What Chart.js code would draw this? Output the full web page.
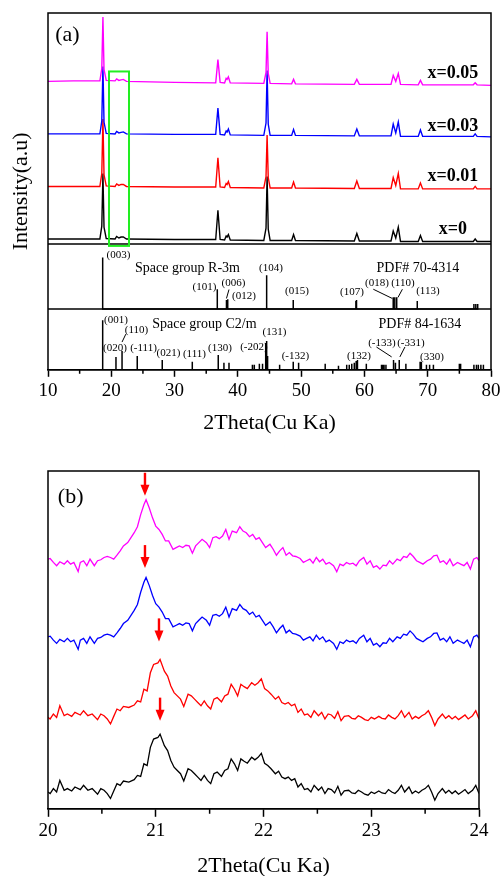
<!DOCTYPE html>
<html>
<head>
<meta charset="utf-8">
<script src="https://cdn.jsdelivr.net/npm/chart.js@4.4.1/dist/chart.umd.min.js"></script>
<style>
  html, body { margin: 0; padding: 0; background: #fff; overflow: hidden; width: 504px; height: 876px; }
  #wrapA { position: absolute; left: 0; top: 0; width: 504px; height: 440px; }
  #wrapB { position: absolute; left: 0; top: 440px; width: 504px; height: 440px; }
</style>
</head>
<body>
<div id="wrapA"><canvas id="chartA" width="504" height="440"></canvas></div>
<div id="wrapB"><canvas id="chartB" width="504" height="440"></canvas></div>
<script>
// ---- panel (a): full patterns, 2theta grid shared by all four samples
const thetaA = [10, 14, 18.2, 18.5, 18.68, 18.85, 19.2, 20.6, 20.85, 21.2, 21.55, 21.9, 22.4, 30,
  36.5, 36.85, 37.2, 37.9, 38.15, 38.3, 38.5, 38.8, 44.1, 44.45, 44.62, 44.8, 45.1,
  48.5, 48.8, 49.1, 58.4, 58.8, 59.2, 64.2, 64.55, 64.95, 65.35, 65.7, 68.5, 68.85, 69.2,
  77.2, 77.5, 77.8, 80];
const sampleLabels = ['x=0.05', 'x=0.03', 'x=0.01', 'x=0'];
const x005 = [0, 0.5, 0.5, 13, 65, 12, 1, 0.5, 2.5, 1, 1.5, 2, 0, -1,
  -1.5, 22, -1, -1.5, 3, 2, 4.5, -1.5, -2, 9, 50, 8, -2,
  -2.5, 2, -2.5, -3, 2, -3, -3, 6, 0, 8, -3, -3.5, 1, -3.5,
  -3.5, -1.5, -3.5, -4];
const x003 = [0, 0, 0, 13, 68, 12, 0.5, 0, 2.5, 1, 1.5, 2, 0, -0.5,
  -0.5, 26, -0.5, -1, 3, 2, 5, -1, -1.5, 11, 64, 10, -1.5,
  -1.5, 4.5, -1.5, -2, 5, -2, -2, 10, 1, 12, -2.5, -2.5, 4, -2.5,
  -2.5, 0, -2.5, -3];
const x001 = [0, 0, 0, 13, 68, 12, 0.5, 0, 2.5, 1, 2, 2, 0, -0.5,
  -0.5, 29, -0.5, -1, 3, 2, 5, -1, -1.5, 10, 52, 9, -1.5,
  -1.5, 4.5, -1.5, -2, 5.5, -2, -2, 9, 1, 13, -2.5, -2.5, 3.5, -2.5,
  -2.5, 0, -2.5, -2.5];
const x000 = [0, 0, 0, 13, 66, 12, 0.5, 0, 2.5, 1, 2, 2, 0, -0.5,
  -0.5, 29, -0.5, -1, 3, 2, 4.5, -1, -1.5, 11, 63, 10, -1.5,
  -1.5, 4.5, -1.5, -2, 5.5, -2, -2, 8, 1, 12, -2.5, -2.5, 3.5, -2.5,
  -2.5, 0, -2.5, -2.5];
const offsetsA = [291, 238, 185, 132];

// reference cards
const r3mTheta = [18.64, 36.75, 38.2, 38.4, 44.55, 48.75, 58.65, 58.75, 64.55, 64.8, 65.1, 68.35, 77.3, 77.6, 77.9];
const r3mHeight = [52, 20, 9, 10, 34, 9, 8, 9, 12, 12, 12, 8, 5, 5, 5];
const c2mTheta = [18.64, 20.74, 21.7, 24.1, 28.05, 32.8, 36.9, 37.8, 38.6, 42.3, 42.6, 43.4, 43.9, 44.4,
  44.55, 44.7, 46.6, 48.75, 49.6, 53.8, 55.9, 57.2, 57.6, 58.0, 58.4, 58.7, 58.9, 60.3, 62.7, 62.9,
  63.1, 63.4, 64.6, 64.9, 65.5, 66.55, 68.8, 69.0, 69.8, 70.3, 70.9, 75.0, 75.2, 77.3, 77.7, 78.0, 78.4, 78.8];
const c2mHeight = [50, 13, 19, 14, 10, 8, 15, 7, 7, 5, 5, 6, 6, 27,
  29, 14, 5, 8, 7, 6, 4, 5, 5, 6, 7, 9, 10, 6, 5, 5,
  5, 5, 10, 7, 10, 6, 8, 8, 5, 5, 5, 6, 6, 5, 5, 5, 5, 5];
const r3mBase = 61.3;
const c2mBase = 0;
const separators = [127, 61.3];

// ---- panel (b): zoom 20-24 deg
const zoomThetaA = [20.00, 20.02, 20.05, 20.08, 20.11, 20.15, 20.18, 20.21, 20.24, 20.28,
  20.30, 20.33, 20.36, 20.39, 20.43, 20.46, 20.49, 20.52, 20.55, 20.58,
  20.61, 20.64, 20.67, 20.70, 20.74, 20.77, 20.80, 20.83, 20.86, 20.89,
  20.91, 20.94, 20.97, 21.00, 21.03, 21.06, 21.09, 21.12, 21.16, 21.19,
  21.22, 21.25, 21.28, 21.31, 21.34, 21.37, 21.40, 21.43, 21.47, 21.50,
  21.53, 21.56, 21.59, 21.62, 21.65, 21.68, 21.71, 21.75, 21.78, 21.81,
  21.84, 21.87, 21.90, 21.93, 21.96, 21.99, 22.02, 22.06, 22.09, 22.12,
  22.15, 22.18, 22.21, 22.24, 22.27, 22.30, 22.34, 22.37, 22.40, 22.43,
  22.46, 22.49, 22.52, 22.55, 22.58, 22.61, 22.65, 22.68, 22.71, 22.74,
  22.77, 22.80, 22.83, 22.86, 22.89, 22.93, 22.96, 22.99, 23.02, 23.05,
  23.08, 23.11, 23.14, 23.17, 23.20, 23.24, 23.27, 23.30, 23.33, 23.36,
  23.39, 23.42, 23.45, 23.48, 23.52, 23.55, 23.58, 23.61, 23.64, 23.67,
  23.70, 23.73, 23.76, 23.80, 23.83, 23.86, 23.89, 23.92, 23.95, 23.98, 24.00];
const zoomShapeA = [3.3, 4, 0, -3.3, 0.7, -1.7, 1.7, -1.7, 0, -9.3,
  0, 1.7, -3.3, 3.3, -3.3, 1.7, 2.7, 5, 6, 5,
  3.3, 7.3, 11.7, 16.7, 20, 25, 30, 36, 48.3, 58.3,
  63.3, 55, 45, 36.7, 33.3, 28.3, 21.7, 21.7, 13.3, 15,
  16.7, 15, 17.3, 16.7, 9.3, 16.7, 20, 23.3, 20, 15,
  25, 26, 24, 26.7, 33.3, 23.3, 31.7, 30, 36, 31.7,
  30, 26, 28.3, 23.3, 25, 20, 15, 18.3, 13.3, 7.3,
  11.7, 15, 7.3, 10, 6.7, 6, 4, 0, 1.7, 3.3,
  -0.7, 5, 0.7, 3.3, -1.7, 0, -3.3, -9.3, -1.7, -3.3,
  0, -1.7, -0.7, -3.3, 1.7, 5, -1.7, 1.7, -5, -3.3,
  -6.7, -2.7, -3.3, 1.7, -1.7, 3.3, 1.7, 6, 5, 9.3,
  6, 1.7, 0, -1.7, 1.7, 3.3, 6.7, 7.3, 0, 1.7,
  -1.7, 3.3, -3.3, 0, -1.7, -3.3, 0, -6.7, 3.3, 5, 1.7];
const zoomThetaB = [20.00, 20.02, 20.05, 20.08, 20.11, 20.15, 20.18, 20.22, 20.25, 20.30,
  20.33, 20.37, 20.41, 20.46, 20.49, 20.52, 20.55, 20.58, 20.61, 20.64,
  20.67, 20.70, 20.75, 20.80, 20.83, 20.86, 20.89, 20.92, 20.95, 20.98,
  21.02, 21.04, 21.08, 21.11, 21.14, 21.17, 21.20, 21.23, 21.26, 21.30,
  21.33, 21.36, 21.39, 21.42, 21.45, 21.48, 21.51, 21.54, 21.57, 21.61,
  21.64, 21.67, 21.70, 21.73, 21.76, 21.79, 21.82, 21.85, 21.89, 21.92,
  21.95, 21.98, 22.01, 22.04, 22.07, 22.11, 22.14, 22.17, 22.20, 22.23,
  22.26, 22.29, 22.32, 22.35, 22.38, 22.41, 22.44, 22.47, 22.51, 22.54,
  22.57, 22.60, 22.63, 22.66, 22.69, 22.72, 22.75, 22.79, 22.82, 22.85,
  22.88, 22.91, 22.94, 22.97, 23.00, 23.03, 23.07, 23.10, 23.13, 23.16,
  23.19, 23.22, 23.25, 23.28, 23.31, 23.35, 23.38, 23.41, 23.44, 23.47,
  23.50, 23.53, 23.56, 23.59, 23.62, 23.66, 23.69, 23.72, 23.75, 23.78,
  23.81, 23.84, 23.87, 23.90, 23.94, 23.97, 24.00];
const zoomShapeB = [-1.7, -3.3, 1.7, -1.7, 10, 0, 1.7, -0.7, 3.3, 0.7,
  5, 0, 1.7, -4, 1.7, 0, -3.3, -8.3, -0.7, 6.7,
  5, 9.3, 8.3, 10.7, 15, 14, 26.7, 25, 43.3, 51.7,
  53.3, 56.7, 45, 40, 30, 23.3, 20, 16.7, 9.3, 21.7,
  20, 16.7, 13.3, 10, 15, 10, 6.7, 16.7, 18.3, 14,
  20, 21.7, 31.7, 26.7, 20, 31.7, 29.3, 27.3, 33.3, 30.7,
  33.3, 37.3, 27.3, 25, 21.7, 16.7, 19.3, 13.3, 11.7, 13.3,
  10, 11.7, 3.3, 6.7, 0.7, 1.7, -1.7, 5, 0, 3.3,
  -3.3, 1.7, 0.7, -2.7, 4, -5, -0.7, 0, -2.7, -3.3,
  0, -1.7, -4, -5, -1.7, -3.3, -0.7, -2.7, -3.3, 0.7,
  -1.7, -3.3, 0, 5, -1.7, 3.3, -3.3, -0.7, -2.7, 0,
  1.7, 5, -1.7, -10, -3.3, 1.7, -2.7, 0, -3.3, -0.7,
  -4, -1.7, 0.7, -3.3, 0, 5, -3.3];
const zoomOffsets = [248.7, 170.3, 94, 18.7];
const shiftTheta = [20.9, 20.9, 21.03, 21.04];   // (003) peak marks
const shiftTip = [316, 243, 169, 89];

const colors = ['#ff00ff', '#0000ff', '#ff0000', '#000000'];
const SERIF = "'Liberation Serif', 'Times New Roman', serif";

// text placed on panel (a), in data units
const notesA = [
  ['(003)', 21.14, 116, 11], ['Space group R-3m', 32.04, 102.3, 14], ['PDF# 70-4314', 68.45, 102.3, 14],
  ['(104)', 45.23, 102.3, 11], ['(101)', 34.72, 83, 11], ['(006)', 39.3, 87, 11], ['(012)', 40.96, 74, 11],
  ['(015)', 49.34, 79, 11], ['(107)', 58.03, 78, 11], ['(018)', 61.97, 87, 11], ['(110)', 66.08, 87, 11],
  ['(113)', 70.03, 79, 11],
  ['(001)', 20.74, 50, 11], ['Space group C2/m', 34.72, 46.3, 14], ['PDF# 84-1634', 68.77, 46.3, 14],
  ['(110)', 23.98, 40.3, 11], ['(020)', 20.58, 22.3, 11], ['(-111)', 25.09, 22.3, 11], ['(021)', 29.04, 17.3, 11],
  ['(111)', 33.14, 15.7, 11], ['(130)', 37.17, 22.3, 11], ['(-202)', 42.54, 23, 11], ['(131)', 45.78, 38, 11],
  ['(-132)', 49.1, 13.7, 11], ['(132)', 59.13, 13.7, 11], ['(-133)', 62.76, 27.3, 11], ['(-331)', 67.35, 27.3, 11],
  ['(330)', 70.66, 13, 11]
];
const leadersA = [
  [38.6, 81, 38.2, 72], [61.4, 81.3, 64.4, 72], [66.0, 81.3, 65.3, 73],
  [22.3, 36, 21.7, 28], [61.9, 23, 64.3, 13], [66.4, 23, 65.6, 13]
];
const sampleLabelPos = [299, 246, 195, 141.3];

function sticks(thetas, heights, base) {
  const pts = [];
  thetas.forEach((t, i) => {
    pts.push({ x: t, y: base }, { x: t, y: base + heights[i] }, { x: t, y: base });
  });
  return pts;
}

function xAxis(min, max, step, tickLen, titlePad) {
  return {
    type: 'linear', min: min, max: max,
    ticks: { stepSize: step, color: '#000', font: { family: SERIF, size: 19 }, padding: 3, maxRotation: 0, autoSkip: false },
    grid: { drawOnChartArea: false, tickLength: tickLen, tickColor: '#000', tickWidth: 1.5 },
    border: { color: '#000', width: 1.5 },
    title: { display: true, text: '2Theta(Cu Ka)', color: '#000', font: { family: SERIF, size: 22 }, padding: titlePad }
  };
}

function drawFrame(chart, minorTicks, minorLen) {
  const ctx = chart.ctx, a = chart.chartArea, xs = chart.scales.x;
  ctx.save();
  ctx.strokeStyle = '#000';
  ctx.lineWidth = 1.5;
  ctx.strokeRect(a.left, a.top, a.right - a.left, a.bottom - a.top);
  ctx.beginPath();
  minorTicks.forEach(v => {
    const px = xs.getPixelForValue(v);
    ctx.moveTo(px, a.bottom);
    ctx.lineTo(px, a.bottom + minorLen);
  });
  ctx.stroke();
  ctx.restore();
}

const seriesA = [x005, x003, x001, x000];
const datasetsA = seriesA.map((s, k) => ({
  data: thetaA.map((t, i) => ({ x: t, y: s[i] + offsetsA[k] })),
  borderColor: colors[k], borderWidth: 1.4
}));
datasetsA.push({ data: sticks(r3mTheta, r3mHeight, r3mBase), borderColor: '#000', borderWidth: 1.5 });
datasetsA.push({ data: sticks(c2mTheta, c2mHeight, c2mBase), borderColor: '#000', borderWidth: 1.5 });

const panelA = {
  id: 'panelA',
  afterDraw(chart) {
    const ctx = chart.ctx, a = chart.chartArea, xs = chart.scales.x, ys = chart.scales.y;
    drawFrame(chart, [15, 25, 35, 45, 55, 65, 75], 4);
    ctx.save();
    ctx.strokeStyle = '#000';
    ctx.lineWidth = 1.5;
    separators.forEach(v => {
      const py = ys.getPixelForValue(v);
      ctx.beginPath(); ctx.moveTo(a.left, py); ctx.lineTo(a.right, py); ctx.stroke();
    });
    ctx.lineWidth = 1;
    leadersA.forEach(l => {
      ctx.beginPath();
      ctx.moveTo(xs.getPixelForValue(l[0]), ys.getPixelForValue(l[1]));
      ctx.lineTo(xs.getPixelForValue(l[2]), ys.getPixelForValue(l[3]));
      ctx.stroke();
    });
    // green box around the 20-23 deg superlattice region
    ctx.strokeStyle = '#22ee22';
    ctx.lineWidth = 2;
    const gx0 = xs.getPixelForValue(19.64), gx1 = xs.getPixelForValue(22.8);
    const gy0 = ys.getPixelForValue(301), gy1 = ys.getPixelForValue(125);
    ctx.strokeRect(gx0, gy0, gx1 - gx0, gy1 - gy0);
    ctx.fillStyle = '#000';
    ctx.textAlign = 'center';
    ctx.textBaseline = 'middle';
    notesA.forEach(n => {
      ctx.font = n[3] + 'px ' + SERIF;
      ctx.fillText(n[0], xs.getPixelForValue(n[1]), ys.getPixelForValue(n[2]));
    });
    ctx.font = 'bold 18px ' + SERIF;
    sampleLabels.forEach((s, k) => ctx.fillText(s, xs.getPixelForValue(73.98), ys.getPixelForValue(sampleLabelPos[k])));
    ctx.font = '22px ' + SERIF;
    ctx.fillText('(a)', xs.getPixelForValue(13.08), ys.getPixelForValue(337.5));
    ctx.restore();
  }
};

new Chart(document.getElementById('chartA'), {
  type: 'line',
  data: { datasets: datasetsA },
  options: {
    responsive: false,
    animation: false,
    layout: { padding: { left: 4, right: 13, top: 13, bottom: 0 } },
    plugins: { legend: { display: false }, tooltip: { enabled: false } },
    elements: { point: { radius: 0 }, line: { tension: 0 } },
    scales: {
      x: xAxis(10, 80, 10, 7, { top: 4, bottom: 4 }),
      y: {
        min: 0, max: 360,
        ticks: { display: false },
        grid: { display: false, drawTicks: false },
        border: { display: false },
        title: { display: true, text: 'Intensity(a.u)', color: '#000', font: { family: SERIF, size: 22 }, padding: { top: 3.8, bottom: 13.8 } }
      }
    }
  },
  plugins: [panelA]
});

// panel (b)
const zoomShapes = [zoomShapeA, zoomShapeA, zoomShapeB, zoomShapeB];
const zoomThetas = [zoomThetaA, zoomThetaA, zoomThetaB, zoomThetaB];
const datasetsB = zoomShapes.map((s, k) => ({
  data: zoomThetas[k].map((t, i) => ({ x: t, y: s[i] + zoomOffsets[k] })),
  borderColor: colors[k], borderWidth: 1.3
}));

const panelB = {
  id: 'panelB',
  afterDraw(chart) {
    const ctx = chart.ctx, xs = chart.scales.x, ys = chart.scales.y;
    drawFrame(chart, [20.5, 21.5, 22.5, 23.5], 5);
    ctx.save();
    ctx.fillStyle = '#ff0000';
    shiftTheta.forEach((t, k) => {
      const px = xs.getPixelForValue(t), tip = ys.getPixelForValue(shiftTip[k]);
      ctx.fillRect(px - 1.2, tip - 23, 2.4, 13);
      ctx.beginPath();
      ctx.moveTo(px - 4.5, tip - 11);
      ctx.lineTo(px + 4.5, tip - 11);
      ctx.lineTo(px, tip);
      ctx.closePath();
      ctx.fill();
    });
    ctx.fillStyle = '#000';
    ctx.textAlign = 'center';
    ctx.textBaseline = 'middle';
    ctx.font = '22px ' + SERIF;
    ctx.fillText('(b)', xs.getPixelForValue(20.21), ys.getPixelForValue(314.5));
    ctx.restore();
  }
};

new Chart(document.getElementById('chartB'), {
  type: 'line',
  data: { datasets: datasetsB },
  options: {
    responsive: false,
    animation: false,
    layout: { padding: { left: 48, right: 25, top: 31, bottom: 1 } },
    plugins: { legend: { display: false }, tooltip: { enabled: false } },
    elements: { point: { radius: 0 }, line: { tension: 0 } },
    scales: {
      x: xAxis(20, 24, 1, 8, { top: 7, bottom: 0 }),
      y: { display: false, min: 0, max: 341 }
    }
  },
  plugins: [panelB]
});
</script>
</body>
</html>
